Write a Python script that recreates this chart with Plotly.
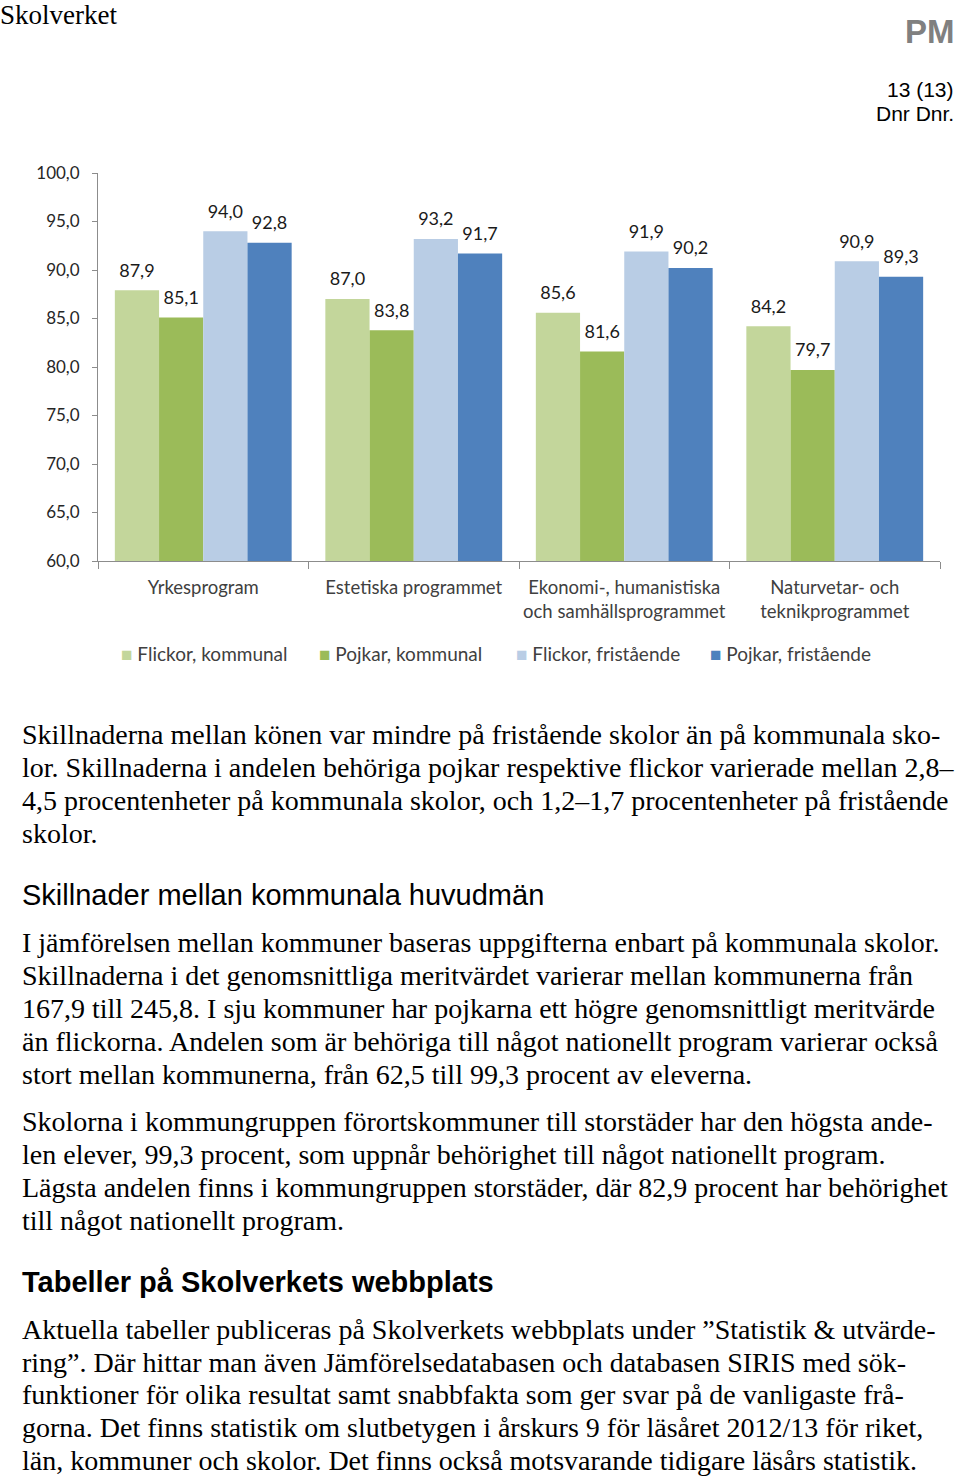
import plotly.graph_objects as go

W, H = 960, 1477

categories = ["Yrkesprogram", "Estetiska programmet",
              "Ekonomi-, humanistiska<br>och samhällsprogrammet",
              "Naturvetar- och<br>teknikprogrammet"]
series_names = ["Flickor, kommunal", "Pojkar, kommunal", "Flickor, fristående", "Pojkar, fristående"]
flickor_kommunal = [87.9, 87.0, 85.6, 84.2]
pojkar_kommunal = [85.1, 83.8, 81.6, 79.7]
flickor_fristaende = [94.0, 93.2, 91.9, 90.9]
pojkar_fristaende = [92.8, 91.7, 90.2, 89.3]
series_values = [flickor_kommunal, pojkar_kommunal, flickor_fristaende, pojkar_fristaende]
colors = ["#C3D69B", "#9BBB59", "#B9CDE5", "#4F81BD"]
y_ticks = [60, 65, 70, 75, 80, 85, 90, 95, 100]

CHART_FONT = "Lato, 'Open Sans', sans-serif"
SERIF = "'Liberation Serif', 'DejaVu Serif', serif"
SANS = "'Liberation Sans', Arial, sans-serif"

fig = go.Figure()
for i, (name, vals, col) in enumerate(zip(series_names, series_values, colors)):
    fig.add_trace(go.Bar(x=categories, y=vals, name=name, marker_color=col,
                         marker_line_width=0, offsetgroup=str(i), showlegend=False))
for i, (name, vals) in enumerate(zip(series_names, series_values)):
    fig.add_trace(go.Scatter(x=categories, y=vals, mode="markers+text", offsetgroup=str(i),
                             marker=dict(size=13, opacity=0), texttemplate="%{y:.1f}",
                             textposition="top center", showlegend=False, hoverinfo="skip",
                             textfont=dict(family=CHART_FONT, size=18, color="#1a1a1a"),
                             cliponaxis=False))

def px(x):
    return x / W

def py(y):
    return 1 - y / H

fig.update_layout(
    width=W, height=H, margin=dict(l=0, r=0, t=0, b=0, autoexpand=False),
    paper_bgcolor="white", plot_bgcolor="white",
    barmode="group", bargap=0.16, bargroupgap=0,
    scattermode="group", scattergap=0.16,
    separators=", ",
    showlegend=False,
    xaxis=dict(domain=[px(98), px(940)], showline=True, linecolor="#8c8c8c", linewidth=1,
               ticks="outside", tickson="boundaries", ticklen=7, tickcolor="#8c8c8c",
               tickfont=dict(family=CHART_FONT, size=18.5, color="#404040"), showgrid=False,
               ticklabelstandoff=10, tickangle=0, automargin=False),
    yaxis=dict(domain=[py(561), py(173)], range=[60, 100], tickvals=y_ticks, tickformat=".1f",
               showline=True, linecolor="#8c8c8c", linewidth=1, ticks="outside", ticklen=5,
               tickcolor="#8c8c8c", showgrid=False, zeroline=False, automargin=False,
               tickfont=dict(family=CHART_FONT, size=17, color="#262626"), ticklabelstandoff=9),
)

anns = []

def text(x, y, s, family, size, color="#000", anchor="left", weight=None):
    f = dict(family=family, size=size, color=color)
    if weight:
        f["weight"] = weight
    anns.append(dict(x=px(x), y=py(y), xref="paper", yref="paper", text=s, showarrow=False,
                     xanchor=anchor, yanchor="middle", font=f, align=anchor))

# header
text(-2, 15, "Skolverket", SERIF, 27)
text(957, 32, "PM", SANS, 33, color="#808080", anchor="right", weight="bold")
text(956, 89, "13 (13)", SANS, 21, anchor="right")
text(956, 114, "Dnr Dnr.", SANS, 21, anchor="right")

# legend
leg_x = [119, 317, 514, 708]
for name, col, lx in zip(series_names, colors, leg_x):
    text(lx, 653, f"<span style='color:{col}'>■</span> {name}", CHART_FONT, 19, color="#404040")

body = [
    (734, "Skillnaderna mellan könen var mindre på fristående skolor än på kommunala sko-"),
    (767, "lor. Skillnaderna i andelen behöriga pojkar respektive flickor varierade mellan 2,8–"),
    (800, "4,5 procentenheter på kommunala skolor, och 1,2–1,7 procentenheter på fristående"),
    (833, "skolor."),
    (942, "I jämförelsen mellan kommuner baseras uppgifterna enbart på kommunala skolor."),
    (975, "Skillnaderna i det genomsnittliga meritvärdet varierar mellan kommunerna från"),
    (1008, "167,9 till 245,8. I sju kommuner har pojkarna ett högre genomsnittligt meritvärde"),
    (1041, "än flickorna. Andelen som är behöriga till något nationellt program varierar också"),
    (1074, "stort mellan kommunerna, från 62,5 till 99,3 procent av eleverna."),
    (1121, "Skolorna i kommungruppen förortskommuner till storstäder har den högsta ande-"),
    (1154, "len elever, 99,3 procent, som uppnår behörighet till något nationellt program."),
    (1187, "Lägsta andelen finns i kommungruppen storstäder, där 82,9 procent har behörighet"),
    (1220, "till något nationellt program."),
    (1329, "Aktuella tabeller publiceras på Skolverkets webbplats under ”Statistik &amp; utvärde-"),
    (1362, "ring”. Där hittar man även Jämförelsedatabasen och databasen SIRIS med sök-"),
    (1394, "funktioner för olika resultat samt snabbfakta som ger svar på de vanligaste frå-"),
    (1427, "gorna. Det finns statistik om slutbetygen i årskurs 9 för läsåret 2012/13 för riket,"),
    (1460, "län, kommuner och skolor. Det finns också motsvarande tidigare läsårs statistik."),
]
for y, s in body:
    text(20, y, s, SERIF, 28)

text(20, 895, "Skillnader mellan kommunala huvudmän", SANS, 29)
text(20, 1282, "Tabeller på Skolverkets webbplats", SANS, 29, weight="bold")

fig.update_layout(annotations=anns)
fig.write_html("out.html", config={"displayModeBar": False},
               post_script="document.body.style.margin='0';document.body.style.overflow='hidden';")
